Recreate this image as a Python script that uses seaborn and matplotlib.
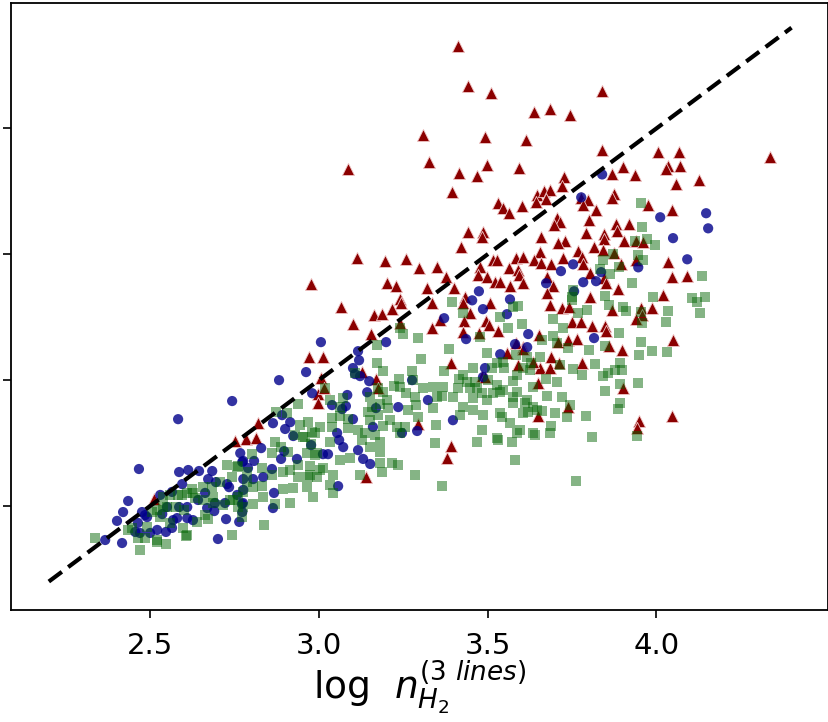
import numpy as np
import pandas as pd
import matplotlib
matplotlib.use("Agg")
import matplotlib.pyplot as plt
import seaborn as sns

# --- data (x = log n 3 lines, y = log n other estimate) ---
red_xy = [
    (3.412, 4.329), (3.442, 4.167), (3.510, 4.139), (3.839, 4.147), (3.637, 4.067),
    (3.685, 4.075), (3.744, 4.052), (3.309, 3.972), (3.492, 3.964), (3.614, 3.952),
    (3.839, 3.913), (3.086, 3.837), (3.326, 3.865), (3.498, 3.853), (3.415, 3.821),
    (3.469, 3.809), (3.593, 3.841), (3.395, 3.746), (3.726, 3.806), (3.720, 3.770),
    (4.005, 3.905), (4.067, 3.905), (3.901, 3.845), (4.034, 3.849), (4.070, 3.849),
    (4.028, 3.837), (3.937, 3.813), (3.868, 3.817), (4.126, 3.794), (4.058, 3.778),
    (3.646, 3.734), (3.667, 3.750), (3.685, 3.754), (3.673, 3.718), (3.643, 3.706),
    (3.777, 3.722), (3.797, 3.714), (3.782, 3.694), (3.874, 3.738), (3.868, 3.722),
    (3.975, 3.694), (4.046, 3.675), (3.531, 3.702), (3.546, 3.683), (3.563, 3.663),
    (3.602, 3.690), (3.821, 3.675), (3.706, 3.643), (3.714, 3.627), (3.697, 3.615),
    (3.800, 3.635), (3.880, 3.619), (3.919, 3.619), (3.883, 3.591), (3.442, 3.587),
    (3.486, 3.587), (3.483, 3.567), (3.421, 3.528), (3.658, 3.567), (3.791, 3.583),
    (3.845, 3.579), (3.845, 3.560), (3.729, 3.552), (3.708, 3.544), (3.904, 3.552),
    (3.940, 3.552), (3.960, 3.548), (3.815, 3.528), (3.842, 3.516), (3.874, 3.504),
    (3.655, 3.508), (3.768, 3.512), (3.780, 3.488), (3.113, 3.484), (3.196, 3.472),
    (3.258, 3.480), (3.297, 3.444), (3.350, 3.448), (3.516, 3.476), (3.528, 3.476),
    (3.584, 3.484), (3.605, 3.488), (3.637, 3.476), (3.658, 3.464), (3.688, 3.460),
    (3.723, 3.484), (3.783, 3.460), (3.895, 3.460), (3.940, 3.476), (4.034, 3.468),
    (4.046, 3.409), (4.091, 3.413), (3.477, 3.448), (3.472, 3.417), (3.498, 3.409),
    (3.563, 3.444), (3.590, 3.436), (3.593, 3.417), (3.377, 3.409), (3.202, 3.385),
    (3.229, 3.373), (3.320, 3.365), (3.400, 3.365), (3.522, 3.389), (3.537, 3.389),
    (3.566, 3.373), (3.605, 3.385), (3.676, 3.409), (3.694, 3.373), (3.803, 3.425),
    (3.845, 3.405), (3.851, 3.385), (3.886, 3.361), (3.676, 3.345), (4.019, 3.337),
    (3.433, 3.329), (3.803, 3.329), (3.241, 3.321), (3.685, 3.298), (3.720, 3.286),
    (3.741, 3.290), (3.868, 3.278), (3.954, 3.286), (3.957, 3.258), (3.987, 3.286),
    (3.940, 3.242), (3.750, 3.230), (3.777, 3.230), (3.809, 3.214), (3.848, 3.214),
    (3.851, 3.194), (3.652, 3.179), (3.708, 3.151), (3.738, 3.159), (3.765, 3.163),
    (3.860, 3.135), (3.898, 3.119), (4.049, 3.159), (3.605, 3.131), (3.634, 3.067),
    (3.655, 3.048), (3.685, 3.048), (3.688, 3.091), (3.711, 3.067), (3.780, 3.067),
    (3.649, 2.988), (3.901, 2.968), (3.738, 2.893), (3.649, 2.857), (4.046, 2.857),
    (3.948, 2.837), (3.942, 2.810), (4.336, 3.885), (3.066, 3.290), (3.101, 3.222),
    (3.163, 3.258), (3.187, 3.262), (3.217, 3.282), (3.243, 3.306), (3.240, 3.226),
    (3.155, 3.183), (3.335, 3.306), (3.359, 3.238), (3.335, 3.206), (3.427, 3.306),
    (3.448, 3.266), (3.430, 3.234), (3.427, 3.190), (3.474, 3.187), (3.495, 3.234),
    (3.504, 3.218), (3.531, 3.194), (3.507, 3.306), (2.971, 3.091), (3.012, 3.091),
    (3.128, 3.032), (3.169, 3.004), (3.175, 2.968), (3.006, 3.008), (2.998, 2.944),
    (2.998, 2.909), (3.015, 2.968), (3.392, 3.067), (3.483, 3.016), (3.492, 3.012),
    (3.557, 3.107), (3.584, 3.147), (3.590, 3.060), (3.605, 3.123), (3.634, 3.071),
    (3.294, 2.825), (3.392, 2.738), (3.380, 2.691), (3.140, 2.615), (2.977, 3.381),
    (2.820, 2.830), (2.752, 2.758), (2.784, 2.766), (2.814, 2.770), (2.512, 2.528),
]

blue_xy = [
    (3.839, 3.817), (3.777, 3.726), (4.011, 3.647), (4.147, 3.663), (4.153, 3.603),
    (4.049, 3.564), (4.091, 3.480), (3.946, 3.448), (3.836, 3.429), (3.753, 3.460),
    (3.717, 3.433), (3.783, 3.389), (3.821, 3.393), (3.756, 3.353), (3.673, 3.385),
    (3.474, 3.353), (3.454, 3.317), (3.566, 3.321), (3.620, 3.183), (3.617, 3.131),
    (3.815, 3.167), (3.006, 3.151), (2.962, 3.032), (3.116, 3.115), (3.119, 3.079),
    (3.101, 3.048), (3.107, 3.024), (3.122, 3.016), (3.149, 2.996), (3.143, 2.952),
    (3.084, 2.941), (2.980, 2.948), (3.039, 2.901), (3.080, 2.897), (3.069, 2.885),
    (3.169, 2.889), (3.235, 2.893), (3.276, 3.000), (3.323, 2.921), (3.199, 3.151),
    (3.371, 3.246), (3.486, 3.282), (3.557, 3.262), (3.436, 3.163), (3.537, 3.103),
    (3.581, 3.143), (3.492, 3.048), (3.486, 3.012), (3.397, 2.841), (3.101, 2.845),
    (3.160, 2.814), (3.054, 2.790), (3.060, 2.762), (3.072, 2.734), (2.977, 2.742),
    (3.116, 2.722), (3.131, 2.687), (3.152, 2.667), (3.246, 2.790), (3.291, 2.798),
    (3.012, 2.706), (3.027, 2.706), (3.057, 2.579), (2.882, 3.000), (2.743, 2.917),
    (2.583, 2.845), (2.467, 2.647), (2.586, 2.635), (2.613, 2.643), (2.645, 2.639),
    (2.684, 2.639), (2.767, 2.710), (2.776, 2.679), (2.808, 2.679), (2.829, 2.730),
    (2.864, 2.829), (2.891, 2.861), (2.915, 2.833), (2.900, 2.806), (2.924, 2.778),
    (2.897, 2.718), (2.888, 2.687), (2.935, 2.687), (2.861, 2.647), (2.835, 2.615),
    (2.805, 2.607), (2.776, 2.607), (2.728, 2.587), (2.672, 2.607), (2.695, 2.595),
    (2.758, 2.544), (2.772, 2.508), (2.867, 2.552), (2.864, 2.492), (2.725, 2.448),
    (2.764, 2.437), (2.690, 2.480), (2.701, 2.369), (2.610, 2.496), (2.586, 2.496),
    (2.550, 2.496), (2.530, 2.544), (2.435, 2.520), (2.402, 2.441), (2.417, 2.353),
    (2.367, 2.365), (2.536, 2.468), (2.568, 2.444), (2.610, 2.452), (2.547, 2.397),
    (2.491, 2.456), (2.464, 2.433), (2.470, 2.393), (2.663, 2.552), (2.642, 2.524),
    (2.627, 2.444), (2.595, 2.587), (2.773, 2.675), (2.790, 2.651), (2.420, 2.476),
    (2.476, 2.476), (2.485, 2.464), (2.500, 2.393), (2.456, 2.397), (2.521, 2.405),
    (2.565, 2.556), (2.734, 2.575), (2.776, 2.564), (2.775, 2.512), (2.773, 2.476),
    (2.722, 2.512), (2.692, 2.512), (2.669, 2.492), (2.580, 2.452), (2.565, 2.413),
]

green_xy = [
    (2.938, 2.905), (2.906, 2.869), (2.873, 2.873), (2.968, 2.833), (2.944, 2.821),
    (2.929, 2.782), (2.980, 2.794), (2.953, 2.774), (2.870, 2.754), (2.888, 2.734),
    (2.909, 2.714), (2.861, 2.710), (2.802, 2.706), (2.977, 2.746), (2.989, 2.702),
    (2.965, 2.710), (2.938, 2.663), (2.915, 2.643), (2.894, 2.635), (2.974, 2.659),
    (2.995, 2.615), (2.968, 2.615), (2.938, 2.615), (2.924, 2.572), (2.965, 2.575),
    (2.983, 2.536), (2.894, 2.568), (2.861, 2.623), (2.832, 2.651), (2.832, 2.579),
    (2.805, 2.575), (2.835, 2.536), (2.805, 2.508), (2.870, 2.508), (2.915, 2.512),
    (2.775, 2.556), (2.758, 2.655), (2.728, 2.663), (2.743, 2.615), (2.707, 2.595),
    (2.684, 2.575), (2.657, 2.575), (2.624, 2.567), (2.595, 2.544), (2.559, 2.544),
    (2.539, 2.536), (2.633, 2.532), (2.657, 2.524), (2.687, 2.512), (2.716, 2.504),
    (2.746, 2.524), (2.761, 2.496), (2.773, 2.456), (2.663, 2.464), (2.639, 2.437),
    (2.598, 2.413), (2.610, 2.385), (2.559, 2.433), (2.530, 2.456), (2.506, 2.476),
    (2.491, 2.417), (2.435, 2.405), (2.485, 2.373), (2.521, 2.357), (2.547, 2.349),
    (2.470, 2.326), (2.337, 2.373), (2.743, 2.385), (2.838, 2.425), (2.577, 2.496),
    (2.601, 2.484), (2.539, 2.496), (2.761, 2.659), (2.787, 2.635), (2.787, 2.595),
    (2.761, 2.536), (2.775, 2.496), (2.737, 2.524), (2.687, 2.536), (2.627, 2.552),
    (2.610, 2.552), (2.583, 2.544), (2.550, 2.496), (2.521, 2.484), (2.447, 2.413),
    (2.464, 2.373), (2.521, 2.365), (2.607, 2.381), (2.672, 2.448), (3.018, 2.968),
    (3.033, 2.921), (3.072, 2.929), (3.107, 3.028), (3.395, 3.310), (3.427, 3.266),
    (3.537, 3.250), (3.575, 3.290), (3.590, 3.294), (3.560, 3.206), (3.602, 3.222),
    (3.249, 3.183), (3.294, 3.167), (3.172, 3.139), (3.386, 3.123), (3.303, 3.083),
    (3.371, 3.036), (3.172, 3.067), (3.190, 3.036), (3.237, 3.004), (3.276, 3.036),
    (3.498, 3.107), (3.528, 3.067), (3.477, 3.171), (3.513, 3.048), (3.457, 3.048),
    (3.427, 3.020), (3.415, 3.004), (3.439, 2.992), (3.463, 2.992), (3.501, 3.000),
    (3.528, 2.980), (3.546, 2.960), (3.575, 2.996), (3.587, 3.020), (3.625, 3.040),
    (3.634, 2.972), (3.617, 2.921), (3.634, 2.893), (3.575, 2.909), (3.537, 2.869),
    (3.566, 2.829), (3.596, 2.802), (3.634, 2.790), (3.572, 2.754), (3.528, 2.770),
    (3.483, 2.802), (3.486, 2.861), (3.457, 2.881), (3.418, 2.861), (3.427, 2.893),
    (3.398, 2.933), (3.457, 2.929), (3.498, 2.921), (3.516, 2.948), (3.483, 2.948),
    (3.365, 2.936), (3.347, 2.821), (3.344, 2.750), (3.285, 2.623), (3.285, 2.933),
    (3.309, 2.968), (3.258, 2.948), (3.279, 3.000), (3.240, 2.972), (3.223, 2.976),
    (3.202, 2.921), (3.205, 2.889), (3.181, 2.905), (3.175, 2.861), (3.152, 2.841),
    (3.146, 2.873), (3.211, 2.841), (3.231, 2.814), (3.255, 2.814), (3.240, 2.790),
    (3.190, 2.817), (3.166, 2.782), (3.181, 2.754), (3.181, 2.714), (3.152, 2.734),
    (3.128, 2.762), (3.137, 2.790), (3.116, 2.802), (3.086, 2.810), (3.086, 2.845),
    (3.063, 2.893), (3.063, 2.857), (3.039, 2.849), (3.039, 2.814), (3.004, 2.814),
    (2.959, 2.774), (2.989, 2.790), (3.033, 2.754), (2.995, 2.710), (3.063, 2.683),
    (3.092, 2.691), (3.181, 2.671), (3.217, 2.671), (3.235, 2.663), (3.187, 2.635),
    (3.042, 2.623), (3.122, 2.623), (3.004, 2.643), (2.974, 2.623), (3.152, 2.933),
    (3.190, 2.952), (3.158, 2.893), (3.175, 2.968), (3.240, 3.206), (3.264, 2.881),
    (3.294, 2.853), (3.288, 2.901), (3.338, 2.889), (3.350, 2.933), (3.368, 2.972),
    (3.338, 2.972), (3.412, 2.968), (3.448, 2.968), (3.469, 2.968), (3.537, 2.952),
    (3.587, 2.952), (3.543, 2.853), (3.617, 3.091), (3.629, 3.067), (3.584, 3.099),
    (3.546, 3.071), (3.549, 3.048), (3.575, 2.933), (3.605, 2.869), (3.646, 2.881),
    (3.640, 2.782), (3.581, 2.683), (3.762, 2.599), (3.809, 2.774), (3.791, 2.857),
    (3.685, 2.790), (3.688, 2.817), (3.700, 2.869), (3.735, 2.853), (3.620, 2.873),
    (3.587, 2.790), (3.531, 2.762), (3.469, 2.754), (3.365, 2.579), (3.892, 2.909),
    (3.886, 2.885), (3.943, 2.778), (3.042, 2.552), (3.033, 2.583), (3.012, 2.651),
    (3.954, 3.702), (3.957, 3.607), (3.937, 3.552), (3.972, 3.560), (3.996, 3.536),
    (3.946, 3.496), (3.960, 3.476), (3.871, 3.500), (3.842, 3.476), (3.833, 3.440),
    (3.863, 3.421), (3.889, 3.448), (3.928, 3.385), (4.135, 3.413), (3.753, 3.357),
    (3.750, 3.329), (3.848, 3.333), (3.990, 3.329), (4.105, 3.325), (4.144, 3.329),
    (4.120, 3.310), (4.129, 3.266), (4.034, 3.274), (4.028, 3.230), (3.954, 3.270),
    (3.957, 3.226), (3.901, 3.290), (3.910, 3.274), (3.860, 3.298), (3.794, 3.278),
    (3.768, 3.266), (3.750, 3.317), (3.694, 3.242), (3.723, 3.206), (3.694, 3.175),
    (3.705, 3.147), (3.738, 3.127), (3.661, 3.159), (3.655, 3.091), (3.605, 3.048),
    (3.714, 3.060), (3.753, 3.044), (3.780, 3.020), (3.800, 3.119), (3.818, 3.063),
    (3.848, 3.135), (3.889, 3.187), (3.954, 3.151), (3.948, 3.099), (3.987, 3.115),
    (4.031, 3.111), (3.892, 3.067), (3.898, 3.040), (3.877, 3.040), (3.857, 3.028),
    (3.842, 3.016), (3.673, 3.004), (3.705, 2.992), (3.611, 2.909), (3.676, 2.937),
    (3.720, 2.933), (3.661, 2.877), (3.744, 2.901), (3.848, 2.956), (3.892, 2.984),
    (3.945, 2.988),
]

# one-to-one line
line_x = [2.2, 4.4]
x_ticks = [2.5, 3.0, 3.5, 4.0]
y_ticks = [2.5, 3.0, 3.5, 4.0]

red = pd.DataFrame(red_xy, columns=["x", "y"])
blue = pd.DataFrame(blue_xy, columns=["x", "y"])
green = pd.DataFrame(green_xy, columns=["x", "y"])
one_to_one = pd.DataFrame({"x": line_x, "y": line_x})

plt.rcParams["font.family"] = ["DejaVu Sans"]
plt.rcParams["mathtext.fontset"] = "dejavusans"

fig = plt.figure(figsize=(8.29, 7.22), dpi=100)
ax = fig.add_axes([11 / 829, 1 - 610 / 722, 817 / 829, 607 / 722])

sns.scatterplot(data=red, x="x", y="y", marker="^", s=76, color="darkred",
                edgecolor="#f0c8c8", linewidth=0.6, ax=ax, zorder=2)
sns.scatterplot(data=blue, x="x", y="y", marker="o", s=54, color="darkblue",
                alpha=0.8, edgecolor="none", ax=ax, zorder=3)
sns.scatterplot(data=green, x="x", y="y", marker="s", s=50, color="darkgreen",
                alpha=0.48, edgecolor="none", ax=ax, zorder=4)
sns.lineplot(data=one_to_one, x="x", y="y", color="black", linewidth=3.0,
             linestyle=(0, (3.9, 1.9)), ax=ax, zorder=5)

ax.set_xlim(2.088, 4.508)
ax.set_ylim(2.087, 4.498)
ax.set_xticks(x_ticks)
ax.set_xticklabels([f"{t:.1f}" for t in x_ticks])
ax.set_yticks(y_ticks)
ax.set_yticklabels([])
ax.tick_params(axis="both", length=5.5, width=1.2, labelsize=21, pad=10)
for sp in ax.spines.values():
    sp.set_linewidth(1.3)

ax.set_ylabel("")
ax.set_xlabel(r"log  $n_{H_2}^{(3\ lines)}$", fontsize=27, labelpad=0)

fig.savefig("out.png", dpi=100)
